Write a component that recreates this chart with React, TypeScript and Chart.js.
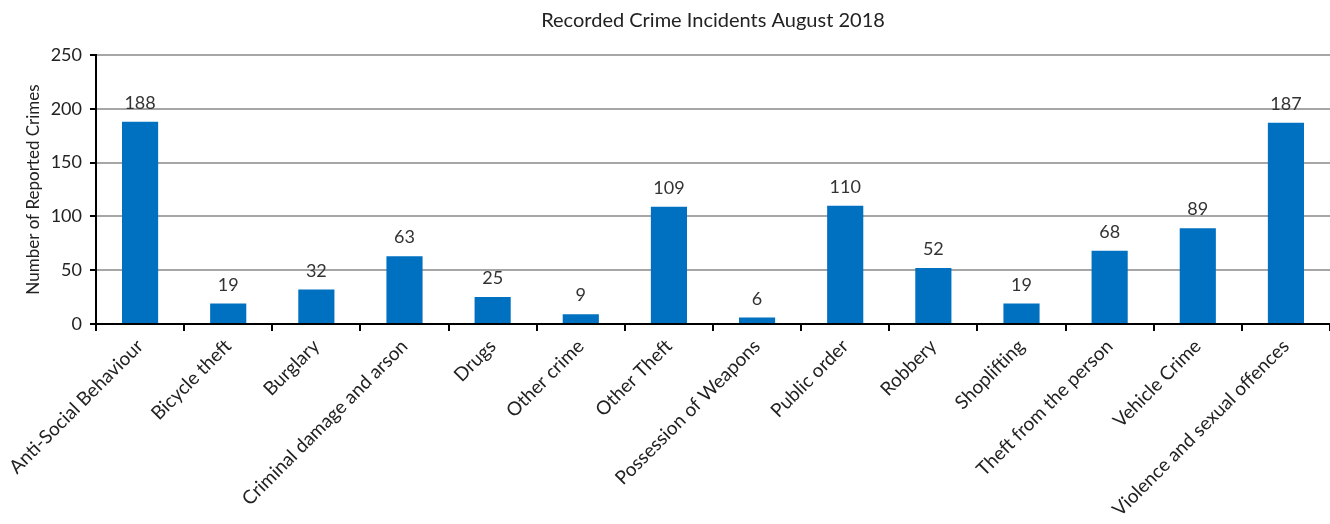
import React, { useEffect, useRef } from "react";
import { Chart, registerables } from "chart.js";

Chart.register(...registerables);

const categories = [
  "Anti-Social Behaviour",
  "Bicycle theft",
  "Burglary",
  "Criminal damage and arson",
  "Drugs",
  "Other crime",
  "Other Theft",
  "Possession of Weapons",
  "Public order",
  "Robbery",
  "Shoplifting",
  "Theft from the person",
  "Vehicle Crime",
  "Violence and sexual offences",
];
const incidents = [188, 19, 32, 63, 25, 9, 109, 6, 110, 52, 19, 68, 89, 187];
const yTicks = [0, 50, 100, 150, 200, 250];
const chartTitle = "Recorded Crime Incidents August 2018";
const yTitle = "Number of Reported Crimes";

const FONT = "Lato, 'Open Sans', sans-serif";

const valueLabels = {
  id: "valueLabels",
  afterDatasetsDraw(chart: any) {
    const ctx = chart.ctx;
    const meta = chart.getDatasetMeta(0);
    ctx.save();
    ctx.font = `18px ${FONT}`;
    ctx.fillStyle = "#333";
    ctx.textAlign = "center";
    ctx.textBaseline = "alphabetic";
    meta.data.forEach((bar: any, i: number) => {
      ctx.fillText(String(chart.data.datasets[0].data[i]), bar.x, bar.y - 13);
    });
    ctx.restore();
  },
};

const areaTitle = {
  id: "areaTitle",
  afterDraw(chart: any) {
    const ctx = chart.ctx;
    const area = chart.chartArea;
    ctx.save();
    ctx.font = `20px ${FONT}`;
    ctx.fillStyle = "#222";
    ctx.textAlign = "center";
    ctx.textBaseline = "middle";
    ctx.fillText(chartTitle, (area.left + area.right) / 2, 21);
    ctx.restore();
  },
};

export default function App() {
  const ref = useRef<HTMLCanvasElement>(null);
  useEffect(() => {
    document.body.style.margin = "0";
    const chart = new Chart(ref.current!, {
      type: "bar",
      data: {
        labels: categories,
        datasets: [
          {
            data: incidents,
            backgroundColor: "#0070C0",
            barPercentage: 0.41,
            categoryPercentage: 1,
          },
        ],
      },
      options: {
        animation: false,
        responsive: false,
        layout: { padding: { left: 0, right: 0, top: 55, bottom: 0 } },
        plugins: {
          legend: { display: false },
          tooltip: { enabled: false },
          title: { display: false },
        },
        scales: {
          x: {
            offset: true,
            grid: {
              display: true,
              offset: true,
              drawOnChartArea: false,
              color: "#000",
              tickColor: "#000",
              tickLength: 7,
              lineWidth: 2,
            },
            border: { display: true, color: "#000", width: 2 },
            ticks: {
              autoSkip: false,
              maxRotation: 45,
              minRotation: 45,
              padding: 4,
              color: "#222",
              font: { family: FONT, size: 19 },
            },
            afterFit: (s: any) => {
              s.height = 200;
            },
          },
          y: {
            min: 0,
            max: 250,
            afterBuildTicks: (s: any) => {
              s.ticks = yTicks.map((v) => ({ value: v }));
            },
            grid: {
              color: "#a6a6a6",
              lineWidth: 2,
              tickColor: "#000",
              tickLength: 6,
            },
            border: { display: true, color: "#000", width: 2 },
            ticks: {
              padding: 8,
              color: "#222",
              font: { family: FONT, size: 18 },
            },
            title: {
              display: true,
              text: yTitle,
              color: "#222",
              font: { family: FONT, size: 17 },
              padding: { top: 23, bottom: 0 },
            },
            afterFit: (s: any) => {
              s.width = 96;
            },
          },
        },
      },
      plugins: [valueLabels, areaTitle],
    });
    return () => chart.destroy();
  }, []);
  return <canvas ref={ref} width={1330} height={524} />;
}
